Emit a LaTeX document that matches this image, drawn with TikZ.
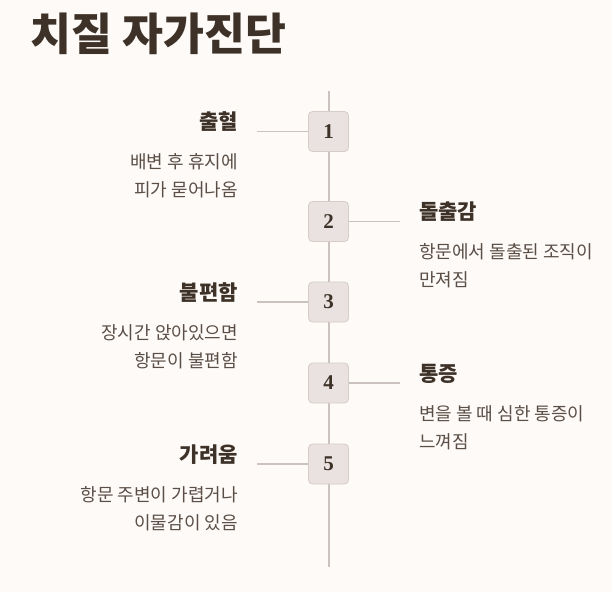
\documentclass[tikz,border=0pt]{standalone}
\usepackage{fontspec}
\setmainfont{Noto Sans CJK KR}
\newfontfamily\numfont{Liberation Serif}
\definecolor{bgc}{HTML}{FDFAF7}
\definecolor{dark}{HTML}{3E3228}
\definecolor{desc}{HTML}{5A4E46}
\definecolor{boxfill}{HTML}{EAE2E0}
\definecolor{boxline}{HTML}{D6CCC8}
\definecolor{linec}{HTML}{CBC2BF}
\tikzset{
  numbox/.style={draw=boxline, fill=boxfill, rounded corners=4pt, minimum width=40pt, minimum height=40pt, inner sep=0pt, font=\numfont\bfseries\fontsize{21}{21}\selectfont, text=dark, line width=0.8pt},
  conn/.style={draw=linec, line width=1.4pt},
  head/.style={inner sep=0pt, font=\bfseries\fontsize{21}{24}\selectfont, text=dark},
  body/.style={inner sep=0pt, font=\fontsize{18}{28}\selectfont, text=desc},
  ttl/.style={inner sep=0pt, font=\bfseries\fontsize{44.5}{48}\selectfont, text=dark, anchor=west}
}
\begin{document}
\begin{tikzpicture}[x=1pt,y=-1pt]
\fill[bgc] (0,0) rectangle (612,592);
\useasboundingbox (0,0) rectangle (612,592);
\node[ttl] (title) at (30,34) {치질 자가진단};
\coordinate (top) at (329,91);
\coordinate (bot) at (329,567);
\draw[conn] (top) -- (bot);
% 1
\coordinate (c1) at (257,131.5);
\node[numbox] (n1) at (328.5,131.5) {1};
\draw[conn] (c1) -- (n1.west);
\node[head, anchor=east] (h1) at (238,122) {출혈};
\node[body, anchor=north east, align=right] (d1) at (238,153) {배변 후 휴지에\\피가 묻어나옴};
% 2
\coordinate (c2) at (400,221.5);
\node[numbox] (n2) at (328.5,221.5) {2};
\draw[conn] (n2.east) -- (c2);
\node[head, anchor=west] (h2) at (419,212) {돌출감};
\node[body, anchor=north west, align=left] (d2) at (419,243) {항문에서 돌출된 조직이\\만져짐};
% 3
\coordinate (c3) at (257,302);
\node[numbox] (n3) at (328.5,302) {3};
\draw[conn] (c3) -- (n3.west);
\node[head, anchor=east] (h3) at (238,293) {불편함};
\node[body, anchor=north east, align=right] (d3) at (238,324) {장시간 앉아있으면\\항문이 불편함};
% 4
\coordinate (c4) at (400,383);
\node[numbox] (n4) at (328.5,383) {4};
\draw[conn] (n4.east) -- (c4);
\node[head, anchor=west] (h4) at (419,374) {통증};
\node[body, anchor=north west, align=left] (d4) at (419,405) {변을 볼 때 심한 통증이\\느껴짐};
% 5
\coordinate (c5) at (257,464);
\node[numbox] (n5) at (328.5,464) {5};
\draw[conn] (c5) -- (n5.west);
\node[head, anchor=east] (h5) at (238,455) {가려움};
\node[body, anchor=north east, align=right] (d5) at (238,486) {항문 주변이 가렵거나\\이물감이 있음};
\end{tikzpicture}
\end{document}
